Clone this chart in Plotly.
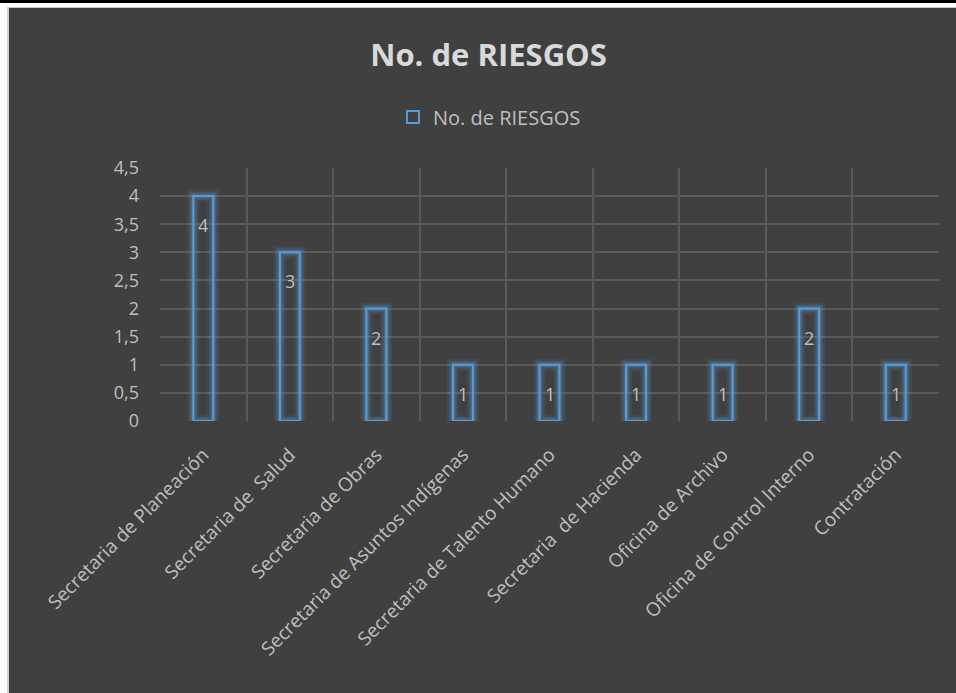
import plotly.graph_objects as go

categories = [
    "Secretaria de Planeación",
    "Secretaria de  Salud",
    "Secretaria de Obras",
    "Secretaria de Asuntos Indígenas",
    "Secretaria de Talento Humano",
    "Secretaria  de Hacienda",
    "Oficina de Archivo",
    "Oficina de Control Interno",
    "Contratación",
]
values = [4, 3, 2, 1, 1, 1, 1, 2, 1]
series_name = "No. de RIESGOS"
title_text = "No. de RIESGOS"
y_ticks = [0, 0.5, 1, 1.5, 2, 2.5, 3, 3.5, 4, 4.5]

BG = "#404040"
BLUE = "#5b9bd5"
TXT = "#bfbfbf"
GRID = "#5a5a5a"
FONT = "Open Sans"

fig = go.Figure()

# glow layers
for lw, op in [(12, 0.10), (8, 0.16), (5, 0.25)]:
    fig.add_trace(go.Bar(
        x=categories, y=values, width=0.23,
        marker=dict(color="rgba(0,0,0,0)",
                    line=dict(color=f"rgba(91,155,213,{op})", width=lw)),
        showlegend=False, hoverinfo="skip",
    ))

fig.add_trace(go.Bar(
    x=categories, y=values, width=0.23, name=series_name,
    marker=dict(color="rgba(0,0,0,0)", line=dict(color=BLUE, width=2)),
    showlegend=True,
))

annotations = [
    dict(x=c, y=v, text=str(v), showarrow=False, yshift=-29,
         font=dict(family=FONT, size=18, color=TXT))
    for c, v in zip(categories, values)
]

W, H = 956, 693
L, R, T, B = 160, 17, 168, 272
PW, PH = W - L - R, H - T - B


def px(x):
    return (x - L) / PW


def py(y):
    return (H - B - y) / PH


fig.update_layout(
    width=W, height=H,
    paper_bgcolor=BG, plot_bgcolor=BG,
    barmode="overlay",
    separators=",.",
    margin=dict(l=L, r=R, t=T, b=B),
    font=dict(family=FONT, color=TXT),
    title=dict(text=title_text, x=0.511, xref="container", xanchor="center",
               y=1 - 55 / H, yref="container", yanchor="middle",
               font=dict(family=FONT, size=31, color="#d9d9d9", weight="bold")),
    legend=dict(orientation="h", x=0.512, xref="container", xanchor="center",
                y=1 - 117 / H, yref="container", yanchor="middle",
                font=dict(family=FONT, size=20, color=TXT),
                bgcolor="rgba(0,0,0,0)"),
    annotations=annotations,
    xaxis=dict(type="category", tickson="boundaries", showgrid=True,
               gridcolor=GRID, gridwidth=2, tickangle=-45,
               ticks="", showline=False, zeroline=False,
               tickfont=dict(family=FONT, size=19, color=TXT),
               ticklabelstandoff=18),
    yaxis=dict(range=[0, 4.5], tickvals=y_ticks, showgrid=True,
               gridcolor=GRID, gridwidth=2, zeroline=False, showline=False,
               ticks="", tickfont=dict(family=FONT, size=18, color=TXT),
               ticklabelstandoff=20),
    shapes=[
        # white page border strips and black top rule (decoration)
        dict(type="rect", xref="paper", yref="paper",
             x0=px(0), x1=px(7), y0=py(H), y1=py(0),
             fillcolor="white", line_width=0, layer="above"),
        dict(type="rect", xref="paper", yref="paper",
             x0=px(7), x1=px(9), y0=py(H), y1=py(7),
             fillcolor="#d0d0d0", line_width=0, layer="above"),
        dict(type="rect", xref="paper", yref="paper",
             x0=px(0), x1=px(W), y0=py(7), y1=py(0),
             fillcolor="white", line_width=0, layer="above"),
        dict(type="rect", xref="paper", yref="paper",
             x0=px(7), x1=px(W), y0=py(8), y1=py(7),
             fillcolor="#c8c8c8", line_width=0, layer="above"),
        dict(type="rect", xref="paper", yref="paper",
             x0=px(0), x1=px(W), y0=py(3), y1=py(0),
             fillcolor="black", line_width=0, layer="above"),
    ],
)

fig.write_html("out.html",
               config={"displayModeBar": False},
               post_script="document.body.style.margin='0px';")
